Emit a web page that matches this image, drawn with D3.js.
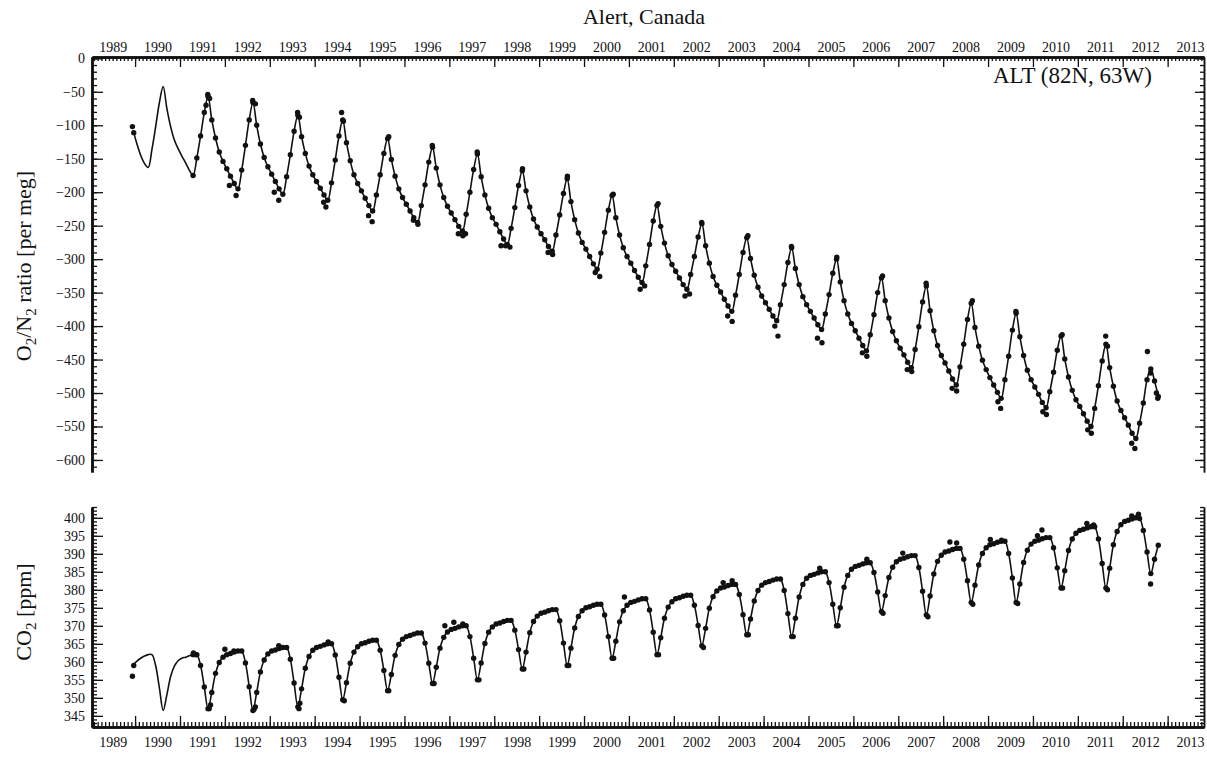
<!DOCTYPE html>
<html><head><meta charset="utf-8">
<script src="https://cdn.jsdelivr.net/npm/d3@7"></script>
<style>
body{margin:0;background:#fff}
text{font-family:"Liberation Serif","Times New Roman",serif;fill:#111}
</style>
</head><body>
<svg id="c" width="1207" height="765"></svg>
<script>
// ---------- DATA ----------
// monthly fitted curve values, first month = Dec 1989
const firstYear = 1989, firstMonth = 11;
const flaskStartIndex = 16; // flask record resumes Apr 1991

const o2Fit = [-108,
 -128,-145,-157,-163,-136,-102,-66,-42,-75,-102,-122,-135,
 -146,-156,-167,-175,-149,-116,-81,-57,-92,-119,-140,-154,
 -165,-176,-187,-195,-167,-130,-92,-66,-100,-128,-148,-162,
 -173,-184,-195,-203,-177,-144,-109,-85,-117,-142,-161,-174,
 -184,-194,-204,-212,-186,-152,-116,-92,-126,-153,-174,-187,
 -198,-209,-220,-228,-204,-174,-142,-120,-151,-176,-195,-208,
 -218,-228,-238,-245,-220,-189,-155,-133,-164,-189,-208,-221,
 -231,-241,-251,-258,-233,-200,-166,-143,-177,-204,-224,-238,
 -248,-259,-270,-278,-254,-223,-190,-168,-198,-222,-240,-252,
 -262,-271,-281,-288,-264,-234,-202,-180,-214,-241,-261,-275,
 -285,-296,-307,-315,-291,-260,-227,-205,-238,-264,-283,-296,
 -306,-317,-327,-335,-310,-278,-243,-220,-251,-276,-295,-308,
 -318,-328,-338,-345,-323,-296,-267,-247,-280,-306,-326,-339,
 -349,-360,-370,-378,-354,-323,-290,-268,-299,-324,-342,-355,
 -365,-375,-385,-392,-368,-338,-305,-283,-314,-338,-356,-368,
 -378,-388,-398,-405,-382,-353,-321,-300,-334,-362,-382,-396,
 -407,-418,-429,-437,-413,-383,-350,-328,-362,-388,-408,-422,
 -433,-443,-454,-462,-435,-401,-364,-340,-377,-407,-429,-444,
 -455,-467,-479,-488,-461,-427,-390,-366,-402,-430,-451,-465,
 -477,-488,-499,-508,-480,-445,-406,-381,-416,-444,-466,-480,
 -491,-502,-514,-522,-498,-469,-436,-415,-449,-476,-496,-510,
 -520,-531,-542,-550,-523,-489,-452,-427,-462,-490,-512,-526,
 -537,-548,-560,-568,-545,-515,-480,-464,-482,-505];

const co2Fit = [359.2,
 360.2,361,361.6,362,362,358.9,352.7,346.5,350.9,355.9,358.8,360.3,
 361,361.3,361.7,362,362,359,353,347,351.5,356.8,359.8,361.3,
 362,362.3,362.7,363,363,359.7,353.1,346.5,351.5,357.2,360.5,362.2,
 363,363.3,363.7,364,364,360.7,354.1,347.5,352.5,358.2,361.5,363.2,
 364,364.3,364.7,365,365,361.9,355.7,349.5,354.2,359.6,362.7,364.2,
 365,365.3,365.7,366,366,363.2,357.6,352,356.5,361.8,364.8,366.3,
 367,367.3,367.7,368,368,365.2,359.6,354,358.5,363.8,366.8,368.3,
 369,369.3,369.7,370,370,367,361,355,359.7,365.1,368.2,369.7,
 370.5,370.8,371.2,371.5,371.5,368.8,363.4,358,362.7,368.1,371.2,372.7,
 373.5,373.8,374.2,374.5,374.5,371.4,365.2,359,363.8,369.4,372.6,374.2,
 375,375.3,375.7,376,376,373,367,361,365.7,371.1,374.2,375.7,
 376.5,376.8,377.2,377.5,377.5,374.4,368.2,362,366.7,372.1,375.2,376.7,
 377.5,377.8,378.2,378.5,378.5,375.7,370.1,364.5,369.3,374.9,378.1,379.7,
 380.5,380.8,381.2,381.5,381.5,378.7,373.1,367.5,371.9,376.9,379.8,381.3,
 382,382.3,382.7,383,383,379.8,373.4,367,372.1,378,381.5,383.2,
 384,384.3,384.7,385,385,382,376,370,375,380.7,384,385.7,
 386.5,386.8,387.2,387.5,387.5,384.8,379.4,374,378.4,383.4,386.3,387.8,
 388.5,388.8,389.2,389.5,389.5,386.2,379.6,373,378.3,384.4,387.9,389.6,
 390.5,390.8,391.2,391.5,391.5,388.5,382.5,376.5,381.3,386.9,390.1,391.7,
 392.5,392.8,393.2,393.5,393.5,390.1,383.3,376.5,381.6,387.6,391,392.7,
 393.5,393.8,394.2,394.5,394.5,391.7,386.1,380.5,385.3,390.9,394.1,395.7,
 396.5,396.8,397.2,397.5,397.5,394.1,387.3,380.5,386,392.5,396.2,398.1,
 399,399.3,399.7,400,399.8,396.5,390.5,384.5,388.5,392.4];

// individual flask samples off the monthly beads [decimal year, value]
const o2Flask = [[1989.94,-102],[1989.97,-111],
 [1991.62,-54],[1991.66,-60],[1991.58,-70],[1992.1,-190],[1992.25,-205],
 [1992.62,-63],[1992.68,-68],[1993.1,-200],[1993.2,-212],
 [1993.62,-81],[1993.66,-88],[1994.2,-215],[1994.25,-222],
 [1994.6,-81],[1994.64,-94],[1995.2,-235],[1995.28,-244],
 [1995.65,-117],[1996.2,-242],[1996.3,-248],
 [1996.62,-130],[1997.2,-262],[1997.3,-265],[1997.36,-262],
 [1997.62,-140],[1998.15,-280],[1998.25,-280],[1998.35,-282],
 [1998.63,-165],[1999.2,-290],[1999.3,-293],
 [1999.63,-176],[2000.25,-320],[2000.35,-326],
 [2000.65,-203],[2001.25,-345],[2001.35,-340],
 [2001.65,-217],[2002.25,-355],[2002.35,-352],
 [2002.62,-245],[2003.2,-385],[2003.3,-393],
 [2003.65,-265],[2004.25,-400],[2004.32,-415],
 [2004.62,-281],[2005.2,-418],[2005.3,-425],
 [2005.63,-297],[2006.2,-440],[2006.3,-445],
 [2006.65,-325],[2007.2,-465],[2007.3,-468],
 [2007.62,-336],[2008.2,-493],[2008.3,-497],
 [2008.65,-362],[2009.22,-513],[2009.28,-523],
 [2009.62,-378],[2010.22,-528],[2010.3,-532],
 [2010.65,-413],[2011.22,-555],[2011.3,-560],
 [2011.62,-415],[2011.66,-430],[2012.2,-575],[2012.27,-583],
 [2012.55,-438],[2012.62,-470],[2012.75,-500],[2012.78,-508]];

const co2Flask = [[1989.94,356],[1989.97,359],
 [1991.3,362.5],[1991.35,362],
 [1991.65,347],[1991.68,348],[1992.0,363.5],[1992.2,363],
 [1992.65,346.8],[1992.68,347.5],[1993.2,364.5],
 [1993.65,347],[1993.67,348.5],[1994.3,365.5],
 [1994.66,349.2],[1995.65,352],[1996.66,354],
 [1996.9,370],[1997.1,371],[1997.3,370.5],[1997.66,355],
 [1998.66,358],[1999.66,359],[2000.66,361],[2000.9,378],
 [2001.66,362],[2002.66,364],[2003.1,382],[2003.3,382.5],
 [2003.66,367.5],[2004.66,367],[2005.25,386],[2005.66,370],
 [2006.3,388.5],[2006.66,373.5],[2007.1,390.2],[2007.66,372.5],
 [2008.15,393.3],[2008.3,393],[2008.66,376],
 [2009.05,394],[2009.3,393.8],[2009.66,376.2],
 [2010.1,395],[2010.2,396.6],[2010.66,380.5],
 [2011.2,398.4],[2011.35,398],[2011.66,380],
 [2012.2,400.5],[2012.35,401],[2012.62,381.6]];

const yearLabels = d3.range(1989, 2014);
const o2Major = d3.range(0, -601, -50);
const o2Minor = d3.range(0, -611, -10);
const co2Major = d3.range(345, 401, 5);
const co2Minor = d3.range(342, 404, 1);

// ---------- LAYOUT ----------
const svg = d3.select("#c");
const xL = 92, xR = 1204;
const x = d3.scaleLinear().domain([1989.04, 2013.81]).range([xL, xR]);
const yO2 = d3.scaleLinear().domain([-618, 2]).range([472, 57]);
const yCO2 = d3.scaleLinear().domain([341.9, 403]).range([727, 507]);

const monthT = i => firstYear + (firstMonth + i + 0.5) / 12;
const monthTicks = d3.range(0, 25 * 12 + 1).map(i => 1989 + i / 12).filter(t => t >= 1989.04 && t <= 2013.81);
const yearTicks = yearLabels.filter(t => t >= 1989.04 && t <= 2013.81);

function styleAxis(g, w) {
  g.select(".domain").attr("stroke", "#111").attr("stroke-width", w);
  g.selectAll(".tick line").attr("stroke", "#111").attr("stroke-width", 1.3);
  g.selectAll("text").style("font-size", "14px").attr("fill", "#111");
}

// top x axis
const gTop = svg.append("g").attr("transform", "translate(0,57)");
gTop.call(d3.axisBottom(x).tickValues(monthTicks).tickSize(4).tickSizeOuter(0).tickFormat(""));
styleAxis(gTop, 2.5);
const gTop2 = svg.append("g").attr("transform", "translate(0,57)");
gTop2.call(d3.axisBottom(x).tickValues(yearTicks).tickSize(10).tickSizeOuter(0).tickFormat(""));
styleAxis(gTop2, 2.5);
const gTopL = svg.append("g").attr("transform", "translate(0,57)");
gTopL.call(d3.axisTop(x).tickValues(yearLabels.map(d => d + 0.5)).tickSize(0).tickPadding(5).tickFormat(d => Math.floor(d)));
gTopL.select(".domain").remove();
styleAxis(gTopL, 0);

// bottom x axis
const gBot = svg.append("g").attr("transform", "translate(0,727)");
gBot.call(d3.axisTop(x).tickValues(monthTicks).tickSize(5).tickSizeOuter(0).tickFormat(""));
styleAxis(gBot, 2.5);
const gBot2 = svg.append("g").attr("transform", "translate(0,727)");
gBot2.call(d3.axisTop(x).tickValues(yearTicks).tickSize(11).tickSizeOuter(0).tickFormat(""));
styleAxis(gBot2, 2.5);
const gBotL = svg.append("g").attr("transform", "translate(0,727)");
gBotL.call(d3.axisBottom(x).tickValues(yearLabels.map(d => d + 0.5)).tickSize(0).tickPadding(10).tickFormat(d => Math.floor(d)));
gBotL.select(".domain").remove();
styleAxis(gBotL, 0);

// y axes helper
function yAxes(y, major, minor, fmt) {
  const a1 = svg.append("g").attr("transform", `translate(${xL},0)`)
    .call(d3.axisRight(y).tickValues(minor).tickSize(5).tickSizeOuter(0).tickFormat(""));
  styleAxis(a1, 2.5);
  const a2 = svg.append("g").attr("transform", `translate(${xL},0)`)
    .call(d3.axisRight(y).tickValues(major).tickSize(11).tickSizeOuter(0).tickFormat(""));
  styleAxis(a2, 2.5);
  const a3 = svg.append("g").attr("transform", `translate(${xL},0)`)
    .call(d3.axisLeft(y).tickValues(major).tickSize(0).tickPadding(7).tickFormat(fmt));
  a3.select(".domain").remove();
  styleAxis(a3, 0);
  const r1 = svg.append("g").attr("transform", `translate(${xR},0)`)
    .call(d3.axisLeft(y).tickValues(minor).tickSize(4).tickSizeOuter(0).tickFormat(""));
  styleAxis(r1, 1.5);
  const r2 = svg.append("g").attr("transform", `translate(${xR},0)`)
    .call(d3.axisLeft(y).tickValues(major).tickSize(9).tickSizeOuter(0).tickFormat(""));
  styleAxis(r2, 1.5);
}
yAxes(yO2, o2Major, o2Minor, d => d === 0 ? "0" : "\u2212" + Math.abs(d));
yAxes(yCO2, co2Major, co2Minor, d => d);

// series
function series(y, fit, flask) {
  const pts = fit.map((v, i) => [monthT(i), v]);
  const line = d3.line().x(d => x(d[0])).y(d => y(d[1])).curve(d3.curveCatmullRom.alpha(0.5));
  svg.append("path").datum(pts).attr("d", line).attr("fill", "none").attr("stroke", "#111").attr("stroke-width", 1.6);
  const beads = pts.slice(flaskStartIndex).concat(flask);
  svg.append("g").selectAll("circle").data(beads).join("circle")
    .attr("cx", d => x(d[0])).attr("cy", d => y(d[1])).attr("r", 2.7).attr("fill", "#111");
}
series(yO2, o2Fit, o2Flask);
series(yCO2, co2Fit, co2Flask);

// titles
svg.append("text").attr("x", 644).attr("y", 24).attr("text-anchor", "middle").style("font-size", "22px").text("Alert, Canada");
svg.append("text").attr("x", 1152).attr("y", 83).attr("text-anchor", "end").style("font-size", "23px").text("ALT (82N, 63W)");

const t1 = svg.append("text").attr("transform", "translate(31,266) rotate(-90)").attr("text-anchor", "middle").style("font-size", "22px");
t1.append("tspan").text("O");
t1.append("tspan").attr("dy", 5).style("font-size", "15px").text("2");
t1.append("tspan").attr("dy", -5).text("/N");
t1.append("tspan").attr("dy", 5).style("font-size", "15px").text("2");
t1.append("tspan").attr("dy", -5).text(" ratio [per meg]");

const t2 = svg.append("text").attr("transform", "translate(31,612) rotate(-90)").attr("text-anchor", "middle").style("font-size", "22px");
t2.append("tspan").text("CO");
t2.append("tspan").attr("dy", 5).style("font-size", "15px").text("2");
t2.append("tspan").attr("dy", -5).text(" [ppm]");
</script>
</body></html>
